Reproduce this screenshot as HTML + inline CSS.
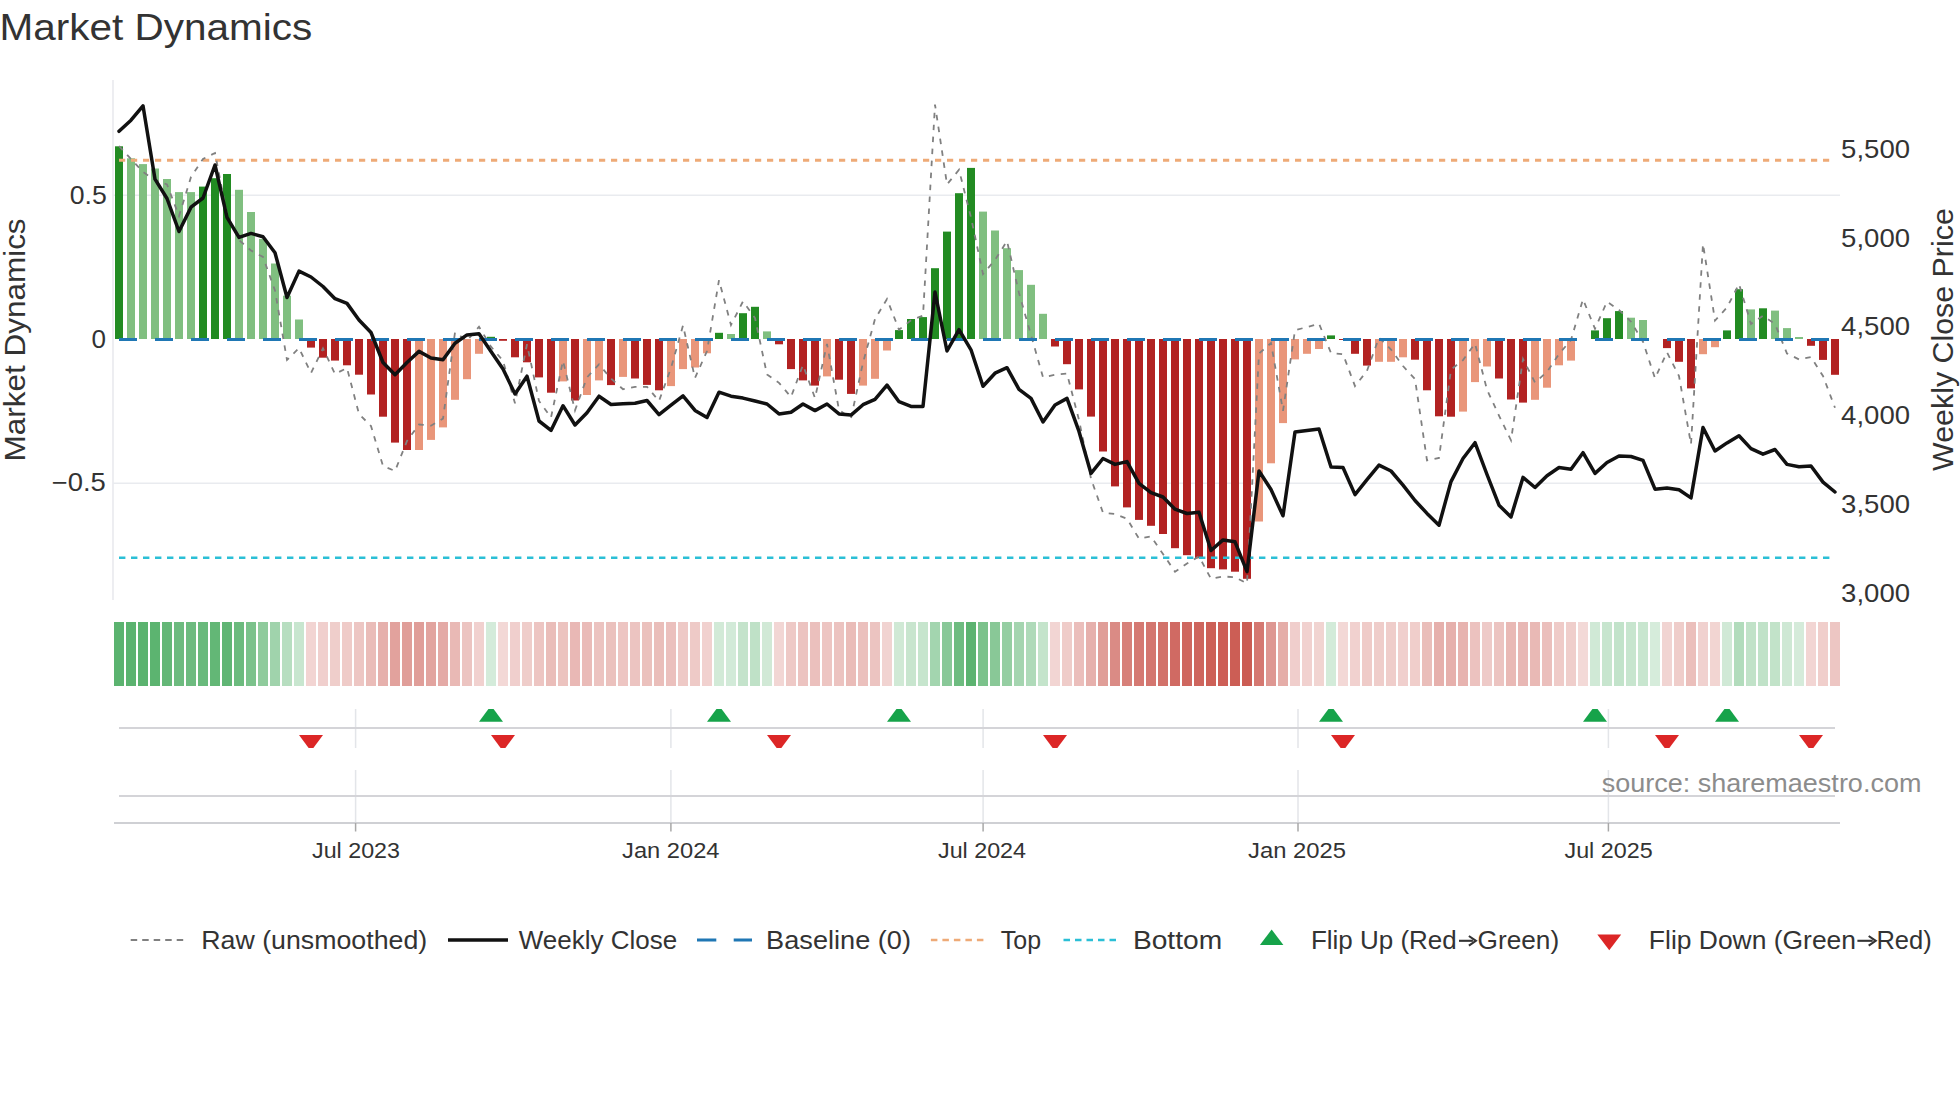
<!DOCTYPE html>
<html><head><meta charset="utf-8"><title>Market Dynamics</title>
<style>html,body{margin:0;padding:0;background:#fff;overflow:hidden}svg{display:block}</style>
</head><body>
<svg width="1960" height="1102" viewBox="0 0 1960 1102" font-family='"Liberation Sans", sans-serif'>
<rect width="1960" height="1102" fill="#ffffff"/>
<line x1="113" y1="80" x2="113" y2="600" stroke="#ebecf0" stroke-width="1.8"/>
<line x1="113" y1="195.3" x2="1840" y2="195.3" stroke="#e9ebef" stroke-width="1.6"/>
<line x1="113" y1="483.2" x2="1840" y2="483.2" stroke="#e9ebef" stroke-width="1.6"/>
<rect x="115" y="146.3" width="8" height="192.7" fill="#228b22"/>
<rect x="127" y="158.3" width="8" height="180.7" fill="#80bf80"/>
<rect x="139" y="164.1" width="8" height="174.9" fill="#80bf80"/>
<rect x="151" y="168.5" width="8" height="170.5" fill="#80bf80"/>
<rect x="163" y="179" width="8" height="160" fill="#80bf80"/>
<rect x="175" y="192.1" width="8" height="146.9" fill="#80bf80"/>
<rect x="187" y="192.1" width="8" height="146.9" fill="#80bf80"/>
<rect x="199" y="186.6" width="8" height="152.4" fill="#228b22"/>
<rect x="211" y="178.2" width="8" height="160.8" fill="#228b22"/>
<rect x="223" y="174" width="8" height="165" fill="#228b22"/>
<rect x="235" y="189.8" width="8" height="149.2" fill="#80bf80"/>
<rect x="247" y="212" width="8" height="127" fill="#80bf80"/>
<rect x="259" y="238.9" width="8" height="100.1" fill="#80bf80"/>
<rect x="271" y="263.5" width="8" height="75.5" fill="#80bf80"/>
<rect x="283" y="295.7" width="8" height="43.3" fill="#80bf80"/>
<rect x="295" y="319.5" width="8" height="19.5" fill="#80bf80"/>
<rect x="307" y="339.0" width="8" height="8.6" fill="#b22222"/>
<rect x="319" y="339.0" width="8" height="18.7" fill="#b22222"/>
<rect x="331" y="339.0" width="8" height="21.6" fill="#b22222"/>
<rect x="343" y="339.0" width="8" height="26.3" fill="#b22222"/>
<rect x="355" y="339.0" width="8" height="35.7" fill="#b22222"/>
<rect x="367" y="339.0" width="8" height="55.5" fill="#b22222"/>
<rect x="379" y="339.0" width="8" height="77.7" fill="#b22222"/>
<rect x="391" y="339.0" width="8" height="103.6" fill="#b22222"/>
<rect x="403" y="339.0" width="8" height="111" fill="#b22222"/>
<rect x="415" y="339.0" width="8" height="111" fill="#e9967a"/>
<rect x="427" y="339.0" width="8" height="100.9" fill="#e9967a"/>
<rect x="439" y="339.0" width="8" height="88.4" fill="#e9967a"/>
<rect x="451" y="339.0" width="8" height="60.8" fill="#e9967a"/>
<rect x="463" y="339.0" width="8" height="40.2" fill="#e9967a"/>
<rect x="475" y="339.0" width="8" height="14.8" fill="#e9967a"/>
<rect x="487" y="336.8" width="8" height="2.2" fill="#228b22"/>
<rect x="499" y="339.0" width="8" height="1.8" fill="#b22222"/>
<rect x="511" y="339.0" width="8" height="18.3" fill="#b22222"/>
<rect x="523" y="339.0" width="8" height="23.3" fill="#b22222"/>
<rect x="535" y="339.0" width="8" height="38.4" fill="#b22222"/>
<rect x="547" y="339.0" width="8" height="53.7" fill="#b22222"/>
<rect x="559" y="339.0" width="8" height="42.4" fill="#e9967a"/>
<rect x="571" y="339.0" width="8" height="61.5" fill="#b22222"/>
<rect x="583" y="339.0" width="8" height="56" fill="#e9967a"/>
<rect x="595" y="339.0" width="8" height="41.4" fill="#e9967a"/>
<rect x="607" y="339.0" width="8" height="46.1" fill="#b22222"/>
<rect x="619" y="339.0" width="8" height="37.9" fill="#e9967a"/>
<rect x="631" y="339.0" width="8" height="39.5" fill="#b22222"/>
<rect x="643" y="339.0" width="8" height="45.9" fill="#b22222"/>
<rect x="655" y="339.0" width="8" height="51.3" fill="#b22222"/>
<rect x="667" y="339.0" width="8" height="47.1" fill="#e9967a"/>
<rect x="679" y="339.0" width="8" height="30.1" fill="#e9967a"/>
<rect x="691" y="339.0" width="8" height="28.5" fill="#e9967a"/>
<rect x="703" y="339.0" width="8" height="14.3" fill="#e9967a"/>
<rect x="715" y="332.8" width="8" height="6.2" fill="#228b22"/>
<rect x="727" y="334" width="8" height="5" fill="#80bf80"/>
<rect x="739" y="313.2" width="8" height="25.8" fill="#228b22"/>
<rect x="751" y="306.8" width="8" height="32.2" fill="#228b22"/>
<rect x="763" y="331.4" width="8" height="7.6" fill="#80bf80"/>
<rect x="775" y="339.0" width="8" height="5.3" fill="#b22222"/>
<rect x="787" y="339.0" width="8" height="30.1" fill="#b22222"/>
<rect x="799" y="339.0" width="8" height="41.4" fill="#b22222"/>
<rect x="811" y="339.0" width="8" height="46.6" fill="#b22222"/>
<rect x="823" y="339.0" width="8" height="37.4" fill="#e9967a"/>
<rect x="835" y="339.0" width="8" height="40.7" fill="#b22222"/>
<rect x="847" y="339.0" width="8" height="54.9" fill="#b22222"/>
<rect x="859" y="339.0" width="8" height="46.6" fill="#e9967a"/>
<rect x="871" y="339.0" width="8" height="39.8" fill="#e9967a"/>
<rect x="883" y="339.0" width="8" height="11.5" fill="#e9967a"/>
<rect x="895" y="330.1" width="8" height="8.9" fill="#228b22"/>
<rect x="907" y="319" width="8" height="20" fill="#228b22"/>
<rect x="919" y="317.1" width="8" height="21.9" fill="#228b22"/>
<rect x="931" y="268.2" width="8" height="70.8" fill="#228b22"/>
<rect x="943" y="231.6" width="8" height="107.4" fill="#228b22"/>
<rect x="955" y="193.2" width="8" height="145.8" fill="#228b22"/>
<rect x="967" y="167.9" width="8" height="171.1" fill="#228b22"/>
<rect x="979" y="211.6" width="8" height="127.4" fill="#80bf80"/>
<rect x="991" y="230.5" width="8" height="108.5" fill="#80bf80"/>
<rect x="1003" y="248.2" width="8" height="90.8" fill="#80bf80"/>
<rect x="1015" y="270.1" width="8" height="68.9" fill="#80bf80"/>
<rect x="1027" y="284.8" width="8" height="54.2" fill="#80bf80"/>
<rect x="1039" y="313.8" width="8" height="25.2" fill="#80bf80"/>
<rect x="1051" y="339.0" width="8" height="7.5" fill="#b22222"/>
<rect x="1063" y="339.0" width="8" height="25.2" fill="#b22222"/>
<rect x="1075" y="339.0" width="8" height="50.4" fill="#b22222"/>
<rect x="1087" y="339.0" width="8" height="77.6" fill="#b22222"/>
<rect x="1099" y="339.0" width="8" height="112.5" fill="#b22222"/>
<rect x="1111" y="339.0" width="8" height="147.4" fill="#b22222"/>
<rect x="1123" y="339.0" width="8" height="168.4" fill="#b22222"/>
<rect x="1135" y="339.0" width="8" height="180.9" fill="#b22222"/>
<rect x="1147" y="339.0" width="8" height="186.8" fill="#b22222"/>
<rect x="1159" y="339.0" width="8" height="195" fill="#b22222"/>
<rect x="1171" y="339.0" width="8" height="209.2" fill="#b22222"/>
<rect x="1183" y="339.0" width="8" height="216.2" fill="#b22222"/>
<rect x="1195" y="339.0" width="8" height="219.3" fill="#b22222"/>
<rect x="1207" y="339.0" width="8" height="229.2" fill="#b22222"/>
<rect x="1219" y="339.0" width="8" height="230.4" fill="#b22222"/>
<rect x="1231" y="339.0" width="8" height="232.7" fill="#b22222"/>
<rect x="1243" y="339.0" width="8" height="239.8" fill="#b22222"/>
<rect x="1255" y="339.0" width="8" height="182.5" fill="#e9967a"/>
<rect x="1267" y="339.0" width="8" height="124.3" fill="#e9967a"/>
<rect x="1279" y="339.0" width="8" height="84.1" fill="#e9967a"/>
<rect x="1291" y="339.0" width="8" height="20.4" fill="#e9967a"/>
<rect x="1303" y="339.0" width="8" height="14.8" fill="#e9967a"/>
<rect x="1315" y="339.0" width="8" height="10" fill="#e9967a"/>
<rect x="1327" y="335.4" width="8" height="3.6" fill="#228b22"/>
<rect x="1339" y="339.0" width="8" height="1" fill="#b22222"/>
<rect x="1351" y="339.0" width="8" height="14.8" fill="#b22222"/>
<rect x="1363" y="339.0" width="8" height="26.6" fill="#b22222"/>
<rect x="1375" y="339.0" width="8" height="22.8" fill="#e9967a"/>
<rect x="1387" y="339.0" width="8" height="22.8" fill="#e9967a"/>
<rect x="1399" y="339.0" width="8" height="18.3" fill="#e9967a"/>
<rect x="1411" y="339.0" width="8" height="20.7" fill="#b22222"/>
<rect x="1423" y="339.0" width="8" height="51.3" fill="#b22222"/>
<rect x="1435" y="339.0" width="8" height="77.3" fill="#b22222"/>
<rect x="1447" y="339.0" width="8" height="77.7" fill="#b22222"/>
<rect x="1459" y="339.0" width="8" height="72.6" fill="#e9967a"/>
<rect x="1471" y="339.0" width="8" height="43.1" fill="#e9967a"/>
<rect x="1483" y="339.0" width="8" height="27.5" fill="#e9967a"/>
<rect x="1495" y="339.0" width="8" height="39.5" fill="#b22222"/>
<rect x="1507" y="339.0" width="8" height="60.5" fill="#b22222"/>
<rect x="1519" y="339.0" width="8" height="63.6" fill="#b22222"/>
<rect x="1531" y="339.0" width="8" height="60.8" fill="#e9967a"/>
<rect x="1543" y="339.0" width="8" height="48.7" fill="#e9967a"/>
<rect x="1555" y="339.0" width="8" height="26.3" fill="#e9967a"/>
<rect x="1567" y="339.0" width="8" height="21.6" fill="#e9967a"/>
<rect x="1591" y="330.4" width="8" height="8.6" fill="#228b22"/>
<rect x="1603" y="318.2" width="8" height="20.8" fill="#228b22"/>
<rect x="1615" y="311.1" width="8" height="27.9" fill="#228b22"/>
<rect x="1627" y="317.7" width="8" height="21.3" fill="#80bf80"/>
<rect x="1639" y="320" width="8" height="19" fill="#80bf80"/>
<rect x="1663" y="339.0" width="8" height="9.1" fill="#b22222"/>
<rect x="1675" y="339.0" width="8" height="22.8" fill="#b22222"/>
<rect x="1687" y="339.0" width="8" height="49.4" fill="#b22222"/>
<rect x="1699" y="339.0" width="8" height="15.2" fill="#e9967a"/>
<rect x="1711" y="339.0" width="8" height="8.2" fill="#e9967a"/>
<rect x="1723" y="330.4" width="8" height="8.6" fill="#228b22"/>
<rect x="1735" y="289.2" width="8" height="49.8" fill="#228b22"/>
<rect x="1747" y="309.4" width="8" height="29.6" fill="#80bf80"/>
<rect x="1759" y="308.3" width="8" height="30.7" fill="#228b22"/>
<rect x="1771" y="310.6" width="8" height="28.4" fill="#80bf80"/>
<rect x="1783" y="328.1" width="8" height="10.9" fill="#80bf80"/>
<rect x="1795" y="337" width="8" height="2" fill="#80bf80"/>
<rect x="1807" y="339.0" width="8" height="6.8" fill="#b22222"/>
<rect x="1819" y="339.0" width="8" height="20.9" fill="#b22222"/>
<rect x="1831" y="339.0" width="8" height="35.8" fill="#b22222"/>
<line x1="119" y1="160.3" x2="1835" y2="160.3" stroke="#eeaa77" stroke-width="3" stroke-dasharray="6.2 5.8"/>
<line x1="119" y1="557.7" x2="1835" y2="557.7" stroke="#2bbfd6" stroke-width="2.6" stroke-dasharray="6.4 5.6"/>
<polyline points="119,146 131,159 143,172 155,180 167,184.4 179,216 191,177 203,159 215,153 227,215 239,240 251,250.5 263,257 275,290.5 287,360 299,348 311,373 323,348.3 335,374 347,368 359,414 371,426 383,466 395,471 407,441 419,424.5 431,425.7 443,418.6 455,332.5 467,340.8 479,326.7 491,346.7 503,360.8 515,403.3 527,344.3 539,401 551,417.5 563,360.8 575,410.4 587,377.4 599,364.4 611,378.5 623,389.2 635,386.8 647,386.8 659,401 671,368 683,325.5 695,378 707,351 719,280.2 731,325 743,301.4 755,318 767,374.5 779,382.8 791,397 803,365 815,398 827,343.9 839,410 851,418.2 863,362.7 875,319.1 887,299 899,329.7 911,320.3 923,315.6 935,104.6 947,184.4 959,169.8 971,217.5 983,274 995,260 1007,241 1019,293 1031,335 1043,377.2 1055,374.8 1067,373.6 1079,420 1091,478.6 1103,512.8 1115,514 1127,518.7 1139,538.7 1151,536.4 1163,554 1175,571.7 1187,563.5 1199,556.4 1211,578.8 1223,576.5 1235,577.2 1247,583.5 1259,353.6 1271,343 1283,410.8 1295,330.2 1307,327.1 1319,323.6 1331,353 1343,354.2 1355,386.1 1367,370.8 1379,337.7 1391,349.5 1403,366 1415,379 1427,460.4 1439,458 1451,369.6 1463,360.1 1475,343.6 1487,389.6 1499,415.6 1511,440.3 1523,359 1535,382.5 1547,371.9 1559,354 1571,340 1583,299.3 1595,328.8 1607,301.7 1619,309.9 1631,321.7 1643,341.7 1655,378.3 1667,352.4 1679,376 1691,444.3 1703,243.9 1715,320.5 1727,307.5 1739,284 1751,324 1763,315.8 1775,324 1787,353.5 1799,359.4 1811,357.1 1823,376 1835,407.8" fill="none" stroke="#808080" stroke-width="1.8" stroke-dasharray="5.5 6.5"/>
<line x1="119" y1="339.5" x2="1835" y2="339.5" stroke="#1f77b4" stroke-width="2.8" stroke-dasharray="18 18"/>
<polyline points="119,131.3 131,120.2 143,105.8 155,179.2 167,198.5 179,231.5 191,207.2 203,198 215,165 227,217.4 239,237.4 251,233.4 263,236.7 275,252.7 287,297.5 299,271.1 311,277 323,286.5 335,298.7 347,303.4 359,320 371,332.5 383,362.5 395,374.7 407,362.5 419,351.4 431,358 443,359.7 455,343.2 467,334.9 479,333.7 491,351.4 503,369.1 515,393.9 527,376.2 539,421 551,430.4 563,405.7 575,425 587,412.7 599,396.2 611,404.5 623,403.8 635,403.3 647,400.5 659,414.6 671,405.2 683,395.8 695,410.4 707,417.5 719,392.2 731,396.2 743,398.1 755,401 767,404 779,413.9 791,412.3 803,404 815,410.6 827,404 839,413.9 851,415.1 863,404.7 875,399.3 887,385.1 899,401.7 911,406.4 923,406.4 935,292 947,351 959,329.7 971,349.8 983,386.3 995,373.2 1007,367.7 1019,389.4 1031,398.4 1043,422 1055,405 1067,398.4 1079,431.4 1091,473.4 1103,458.5 1115,464.4 1127,461.6 1139,483.3 1151,492.7 1163,497 1175,509.2 1187,513.5 1199,512.3 1211,550.5 1223,539.9 1235,541.8 1247,571.7 1259,471 1271,489.5 1283,515.8 1295,432.1 1307,430.4 1319,429 1331,467 1343,467.5 1355,494.6 1367,479.7 1379,465.1 1391,471 1403,485.1 1415,500.5 1427,513.4 1439,525.2 1451,481.6 1463,458.5 1475,442.7 1487,474.5 1499,505.2 1511,517 1523,477.4 1535,487.5 1547,475.7 1559,467.5 1571,469.3 1583,452.7 1595,473.4 1607,462.5 1619,456 1631,456.5 1643,460.3 1655,489.2 1667,488.1 1679,489.7 1691,497.9 1703,427.6 1715,451 1727,442.9 1739,435.8 1751,448.6 1763,454.2 1775,449.5 1787,464.4 1799,466.7 1811,466 1823,482.1 1835,492" fill="none" stroke="#111111" stroke-width="3.5" stroke-linejoin="round" stroke-linecap="round"/>
<rect x="114" y="622" width="10" height="64" fill="#5bb36f"/>
<rect x="126" y="622" width="10" height="64" fill="#5bb36f"/>
<rect x="138" y="622" width="10" height="64" fill="#5bb36f"/>
<rect x="150" y="622" width="10" height="64" fill="#5cb470"/>
<rect x="162" y="622" width="10" height="64" fill="#64b777"/>
<rect x="174" y="622" width="10" height="64" fill="#6dbb7f"/>
<rect x="186" y="622" width="10" height="64" fill="#6dbb7f"/>
<rect x="198" y="622" width="10" height="64" fill="#69ba7c"/>
<rect x="210" y="622" width="10" height="64" fill="#63b776"/>
<rect x="222" y="622" width="10" height="64" fill="#60b574"/>
<rect x="234" y="622" width="10" height="64" fill="#6cbb7e"/>
<rect x="246" y="622" width="10" height="64" fill="#7bc28b"/>
<rect x="258" y="622" width="10" height="64" fill="#8fcb9c"/>
<rect x="270" y="622" width="10" height="64" fill="#a0d3ac"/>
<rect x="282" y="622" width="10" height="64" fill="#b7dec0"/>
<rect x="294" y="622" width="10" height="64" fill="#c8e6cf"/>
<rect x="306" y="622" width="10" height="64" fill="#f2d4d2"/>
<rect x="318" y="622" width="10" height="64" fill="#f0cfcd"/>
<rect x="330" y="622" width="10" height="64" fill="#efcecb"/>
<rect x="342" y="622" width="10" height="64" fill="#efcbc8"/>
<rect x="354" y="622" width="10" height="64" fill="#edc6c3"/>
<rect x="366" y="622" width="10" height="64" fill="#eabcb8"/>
<rect x="378" y="622" width="10" height="64" fill="#e6b0ac"/>
<rect x="390" y="622" width="10" height="64" fill="#e2a29d"/>
<rect x="402" y="622" width="10" height="64" fill="#e09e99"/>
<rect x="414" y="622" width="10" height="64" fill="#e09e99"/>
<rect x="426" y="622" width="10" height="64" fill="#e2a49f"/>
<rect x="438" y="622" width="10" height="64" fill="#e4aaa6"/>
<rect x="450" y="622" width="10" height="64" fill="#e9b9b5"/>
<rect x="462" y="622" width="10" height="64" fill="#ecc4c1"/>
<rect x="474" y="622" width="10" height="64" fill="#f1d1cf"/>
<rect x="486" y="622" width="10" height="64" fill="#d4ebda"/>
<rect x="498" y="622" width="10" height="64" fill="#f3d8d6"/>
<rect x="510" y="622" width="10" height="64" fill="#f0cfcd"/>
<rect x="522" y="622" width="10" height="64" fill="#efcdca"/>
<rect x="534" y="622" width="10" height="64" fill="#edc5c2"/>
<rect x="546" y="622" width="10" height="64" fill="#eabdb9"/>
<rect x="558" y="622" width="10" height="64" fill="#ecc3bf"/>
<rect x="570" y="622" width="10" height="64" fill="#e9b8b5"/>
<rect x="582" y="622" width="10" height="64" fill="#eabbb8"/>
<rect x="594" y="622" width="10" height="64" fill="#ecc3c0"/>
<rect x="606" y="622" width="10" height="64" fill="#ebc1bd"/>
<rect x="618" y="622" width="10" height="64" fill="#edc5c2"/>
<rect x="630" y="622" width="10" height="64" fill="#ecc4c1"/>
<rect x="642" y="622" width="10" height="64" fill="#ebc1bd"/>
<rect x="654" y="622" width="10" height="64" fill="#eabeba"/>
<rect x="666" y="622" width="10" height="64" fill="#ebc0bd"/>
<rect x="678" y="622" width="10" height="64" fill="#eec9c6"/>
<rect x="690" y="622" width="10" height="64" fill="#eecac7"/>
<rect x="702" y="622" width="10" height="64" fill="#f1d1cf"/>
<rect x="714" y="622" width="10" height="64" fill="#d2ead7"/>
<rect x="726" y="622" width="10" height="64" fill="#d2ead8"/>
<rect x="738" y="622" width="10" height="64" fill="#c4e3cb"/>
<rect x="750" y="622" width="10" height="64" fill="#bfe1c7"/>
<rect x="762" y="622" width="10" height="64" fill="#d1e9d6"/>
<rect x="774" y="622" width="10" height="64" fill="#f2d6d4"/>
<rect x="786" y="622" width="10" height="64" fill="#eec9c6"/>
<rect x="798" y="622" width="10" height="64" fill="#ecc3c0"/>
<rect x="810" y="622" width="10" height="64" fill="#ebc0bd"/>
<rect x="822" y="622" width="10" height="64" fill="#edc5c2"/>
<rect x="834" y="622" width="10" height="64" fill="#ecc3c0"/>
<rect x="846" y="622" width="10" height="64" fill="#eabcb8"/>
<rect x="858" y="622" width="10" height="64" fill="#ebc0bd"/>
<rect x="870" y="622" width="10" height="64" fill="#ecc4c1"/>
<rect x="882" y="622" width="10" height="64" fill="#f1d3d1"/>
<rect x="894" y="622" width="10" height="64" fill="#d0e9d5"/>
<rect x="906" y="622" width="10" height="64" fill="#c8e5ce"/>
<rect x="918" y="622" width="10" height="64" fill="#c6e5cd"/>
<rect x="930" y="622" width="10" height="64" fill="#a3d5af"/>
<rect x="942" y="622" width="10" height="64" fill="#89c898"/>
<rect x="954" y="622" width="10" height="64" fill="#6ebc80"/>
<rect x="966" y="622" width="10" height="64" fill="#5cb370"/>
<rect x="978" y="622" width="10" height="64" fill="#7bc28b"/>
<rect x="990" y="622" width="10" height="64" fill="#89c897"/>
<rect x="1002" y="622" width="10" height="64" fill="#95cea2"/>
<rect x="1014" y="622" width="10" height="64" fill="#a5d5b0"/>
<rect x="1026" y="622" width="10" height="64" fill="#afdab9"/>
<rect x="1038" y="622" width="10" height="64" fill="#c4e4cb"/>
<rect x="1050" y="622" width="10" height="64" fill="#f2d5d3"/>
<rect x="1062" y="622" width="10" height="64" fill="#efccc9"/>
<rect x="1074" y="622" width="10" height="64" fill="#ebbebb"/>
<rect x="1086" y="622" width="10" height="64" fill="#e6b0ac"/>
<rect x="1098" y="622" width="10" height="64" fill="#e09e98"/>
<rect x="1110" y="622" width="10" height="64" fill="#da8b85"/>
<rect x="1122" y="622" width="10" height="64" fill="#d78079"/>
<rect x="1134" y="622" width="10" height="64" fill="#d57972"/>
<rect x="1146" y="622" width="10" height="64" fill="#d4766f"/>
<rect x="1158" y="622" width="10" height="64" fill="#d2726a"/>
<rect x="1170" y="622" width="10" height="64" fill="#d06a63"/>
<rect x="1182" y="622" width="10" height="64" fill="#cf675f"/>
<rect x="1194" y="622" width="10" height="64" fill="#ce655d"/>
<rect x="1206" y="622" width="10" height="64" fill="#cd6057"/>
<rect x="1218" y="622" width="10" height="64" fill="#cd5f57"/>
<rect x="1230" y="622" width="10" height="64" fill="#cc5e55"/>
<rect x="1242" y="622" width="10" height="64" fill="#cb5c53"/>
<rect x="1254" y="622" width="10" height="64" fill="#d57871"/>
<rect x="1266" y="622" width="10" height="64" fill="#de9792"/>
<rect x="1278" y="622" width="10" height="64" fill="#e5ada8"/>
<rect x="1290" y="622" width="10" height="64" fill="#f0cecc"/>
<rect x="1302" y="622" width="10" height="64" fill="#f1d1cf"/>
<rect x="1314" y="622" width="10" height="64" fill="#f1d4d1"/>
<rect x="1326" y="622" width="10" height="64" fill="#d3ebd9"/>
<rect x="1338" y="622" width="10" height="64" fill="#f3d8d6"/>
<rect x="1350" y="622" width="10" height="64" fill="#f1d1cf"/>
<rect x="1362" y="622" width="10" height="64" fill="#efcbc8"/>
<rect x="1374" y="622" width="10" height="64" fill="#efcdca"/>
<rect x="1386" y="622" width="10" height="64" fill="#efcdca"/>
<rect x="1398" y="622" width="10" height="64" fill="#f0cfcd"/>
<rect x="1410" y="622" width="10" height="64" fill="#f0cecb"/>
<rect x="1422" y="622" width="10" height="64" fill="#eabeba"/>
<rect x="1434" y="622" width="10" height="64" fill="#e6b0ac"/>
<rect x="1446" y="622" width="10" height="64" fill="#e6b0ac"/>
<rect x="1458" y="622" width="10" height="64" fill="#e7b3af"/>
<rect x="1470" y="622" width="10" height="64" fill="#ecc2bf"/>
<rect x="1482" y="622" width="10" height="64" fill="#eecac8"/>
<rect x="1494" y="622" width="10" height="64" fill="#ecc4c1"/>
<rect x="1506" y="622" width="10" height="64" fill="#e9b9b5"/>
<rect x="1518" y="622" width="10" height="64" fill="#e8b7b4"/>
<rect x="1530" y="622" width="10" height="64" fill="#e9b9b5"/>
<rect x="1542" y="622" width="10" height="64" fill="#ebbfbc"/>
<rect x="1554" y="622" width="10" height="64" fill="#efcbc8"/>
<rect x="1566" y="622" width="10" height="64" fill="#efcecb"/>
<rect x="1578" y="622" width="10" height="64" fill="#f3d9d7"/>
<rect x="1590" y="622" width="10" height="64" fill="#d0e9d6"/>
<rect x="1602" y="622" width="10" height="64" fill="#c7e5ce"/>
<rect x="1614" y="622" width="10" height="64" fill="#c2e3ca"/>
<rect x="1626" y="622" width="10" height="64" fill="#c7e5ce"/>
<rect x="1638" y="622" width="10" height="64" fill="#c8e6cf"/>
<rect x="1650" y="622" width="10" height="64" fill="#d6ecdb"/>
<rect x="1662" y="622" width="10" height="64" fill="#f1d4d2"/>
<rect x="1674" y="622" width="10" height="64" fill="#efcdca"/>
<rect x="1686" y="622" width="10" height="64" fill="#ebbfbb"/>
<rect x="1698" y="622" width="10" height="64" fill="#f0d1cf"/>
<rect x="1710" y="622" width="10" height="64" fill="#f2d5d2"/>
<rect x="1722" y="622" width="10" height="64" fill="#d0e9d6"/>
<rect x="1734" y="622" width="10" height="64" fill="#b2dcbc"/>
<rect x="1746" y="622" width="10" height="64" fill="#c1e2c8"/>
<rect x="1758" y="622" width="10" height="64" fill="#c0e2c8"/>
<rect x="1770" y="622" width="10" height="64" fill="#c2e3c9"/>
<rect x="1782" y="622" width="10" height="64" fill="#cee8d4"/>
<rect x="1794" y="622" width="10" height="64" fill="#d5ebda"/>
<rect x="1806" y="622" width="10" height="64" fill="#f2d5d3"/>
<rect x="1818" y="622" width="10" height="64" fill="#f0cecb"/>
<rect x="1830" y="622" width="10" height="64" fill="#edc6c3"/>
<line x1="355.6" y1="709" x2="355.6" y2="748" stroke="#e3e5e9" stroke-width="1.5"/>
<line x1="355.6" y1="770" x2="355.6" y2="823" stroke="#e3e5e9" stroke-width="1.5"/>
<line x1="670.9" y1="709" x2="670.9" y2="748" stroke="#e3e5e9" stroke-width="1.5"/>
<line x1="670.9" y1="770" x2="670.9" y2="823" stroke="#e3e5e9" stroke-width="1.5"/>
<line x1="983.1" y1="709" x2="983.1" y2="748" stroke="#e3e5e9" stroke-width="1.5"/>
<line x1="983.1" y1="770" x2="983.1" y2="823" stroke="#e3e5e9" stroke-width="1.5"/>
<line x1="1298.0" y1="709" x2="1298.0" y2="748" stroke="#e3e5e9" stroke-width="1.5"/>
<line x1="1298.0" y1="770" x2="1298.0" y2="823" stroke="#e3e5e9" stroke-width="1.5"/>
<line x1="1608.4" y1="709" x2="1608.4" y2="748" stroke="#e3e5e9" stroke-width="1.5"/>
<line x1="1608.4" y1="770" x2="1608.4" y2="823" stroke="#e3e5e9" stroke-width="1.5"/>
<line x1="119" y1="728" x2="1835" y2="728" stroke="#d4d4d8" stroke-width="1.8"/>
<line x1="119" y1="796" x2="1835" y2="796" stroke="#d4d4d8" stroke-width="1.8"/>
<defs><clipPath id="fc"><rect x="0" y="709" width="1960" height="39"/></clipPath></defs>
<g clip-path="url(#fc)">
<path d="M479,721.7 L503,721.7 L491,705.5 Z" fill="#16a34a"/>
<path d="M707,721.7 L731,721.7 L719,705.5 Z" fill="#16a34a"/>
<path d="M887,721.7 L911,721.7 L899,705.5 Z" fill="#16a34a"/>
<path d="M1319,721.7 L1343,721.7 L1331,705.5 Z" fill="#16a34a"/>
<path d="M1583,721.7 L1607,721.7 L1595,705.5 Z" fill="#16a34a"/>
<path d="M1715,721.7 L1739,721.7 L1727,705.5 Z" fill="#16a34a"/>
<path d="M299,735 L323,735 L311,751.2 Z" fill="#dc2626"/>
<path d="M491,735 L515,735 L503,751.2 Z" fill="#dc2626"/>
<path d="M767,735 L791,735 L779,751.2 Z" fill="#dc2626"/>
<path d="M1043,735 L1067,735 L1055,751.2 Z" fill="#dc2626"/>
<path d="M1331,735 L1355,735 L1343,751.2 Z" fill="#dc2626"/>
<path d="M1655,735 L1679,735 L1667,751.2 Z" fill="#dc2626"/>
<path d="M1799,735 L1823,735 L1811,751.2 Z" fill="#dc2626"/>
</g>
<line x1="114" y1="823" x2="1840" y2="823" stroke="#cfd0d4" stroke-width="1.8"/>
<line x1="355.6" y1="823" x2="355.6" y2="831.5" stroke="#a8a8a8" stroke-width="1.5"/>
<line x1="670.9" y1="823" x2="670.9" y2="831.5" stroke="#a8a8a8" stroke-width="1.5"/>
<line x1="983.1" y1="823" x2="983.1" y2="831.5" stroke="#a8a8a8" stroke-width="1.5"/>
<line x1="1298.0" y1="823" x2="1298.0" y2="831.5" stroke="#a8a8a8" stroke-width="1.5"/>
<line x1="1608.4" y1="823" x2="1608.4" y2="831.5" stroke="#a8a8a8" stroke-width="1.5"/>
<line x1="130.7" y1="940" x2="185.3" y2="940" stroke="#808080" stroke-width="1.8" stroke-dasharray="6.5 5"/>
<line x1="448" y1="940" x2="508" y2="940" stroke="#111111" stroke-width="3.6"/>
<line x1="697" y1="940" x2="752" y2="940" stroke="#1f77b4" stroke-width="2.8" stroke-dasharray="19.3 17.4"/>
<line x1="930.9" y1="940" x2="985.7" y2="940" stroke="#eeaa77" stroke-width="2.6" stroke-dasharray="6.5 5"/>
<line x1="1063.5" y1="940" x2="1118.2" y2="940" stroke="#2bbfd6" stroke-width="2.6" stroke-dasharray="6.5 5"/>
<path d="M1259.9,945 L1283.4,945 L1271.65,929.6 Z" fill="#16a34a"/>
<path d="M1597.3,934.5 L1621.2,934.5 L1609.25,950.2 Z" fill="#dc2626"/>
<text x="-0.55" y="40.4" font-size="36.5" fill="#333333" text-anchor="start" textLength="312.79" lengthAdjust="spacingAndGlyphs">Market Dynamics</text>
<text x="69.74" y="203.7" font-size="25" fill="#333333" text-anchor="start" textLength="37.09" lengthAdjust="spacingAndGlyphs">0.5</text>
<text x="91.42" y="347.5" font-size="25" fill="#333333" text-anchor="start" textLength="14.49" lengthAdjust="spacingAndGlyphs">0</text>
<text x="51.73" y="491.2" font-size="25" fill="#333333" text-anchor="start" textLength="54.12" lengthAdjust="spacingAndGlyphs">−0.5</text>
<text x="1841.14" y="157.6" font-size="25" fill="#333333" text-anchor="start" textLength="68.91" lengthAdjust="spacingAndGlyphs">5,500</text>
<text x="1841.14" y="246.5" font-size="25" fill="#333333" text-anchor="start" textLength="68.91" lengthAdjust="spacingAndGlyphs">5,000</text>
<text x="1841.14" y="335.4" font-size="25" fill="#333333" text-anchor="start" textLength="68.91" lengthAdjust="spacingAndGlyphs">4,500</text>
<text x="1841.14" y="424.3" font-size="25" fill="#333333" text-anchor="start" textLength="68.91" lengthAdjust="spacingAndGlyphs">4,000</text>
<text x="1841.14" y="513.2" font-size="25" fill="#333333" text-anchor="start" textLength="68.91" lengthAdjust="spacingAndGlyphs">3,500</text>
<text x="1841.14" y="602.1" font-size="25" fill="#333333" text-anchor="start" textLength="68.91" lengthAdjust="spacingAndGlyphs">3,000</text>
<text x="312" y="857.9" font-size="22" fill="#333333" text-anchor="start" textLength="88.01" lengthAdjust="spacingAndGlyphs">Jul 2023</text>
<text x="622.09" y="857.9" font-size="22" fill="#333333" text-anchor="start" textLength="97.41" lengthAdjust="spacingAndGlyphs">Jan 2024</text>
<text x="938" y="857.9" font-size="22" fill="#333333" text-anchor="start" textLength="88.03" lengthAdjust="spacingAndGlyphs">Jul 2024</text>
<text x="1248.08" y="857.9" font-size="22" fill="#333333" text-anchor="start" textLength="97.94" lengthAdjust="spacingAndGlyphs">Jan 2025</text>
<text x="1564.49" y="857.9" font-size="22" fill="#333333" text-anchor="start" textLength="88.12" lengthAdjust="spacingAndGlyphs">Jul 2025</text>
<text x="1601.78" y="791.6" font-size="26" fill="#8c8c8c" text-anchor="start" textLength="319.64" lengthAdjust="spacingAndGlyphs">source: sharemaestro.com</text>
<text x="201.25" y="949" font-size="25" fill="#333333" text-anchor="start" textLength="225.95" lengthAdjust="spacingAndGlyphs">Raw (unsmoothed)</text>
<text x="518.8" y="949" font-size="25" fill="#333333" text-anchor="start" textLength="158.41" lengthAdjust="spacingAndGlyphs">Weekly Close</text>
<text x="766.13" y="949" font-size="25" fill="#333333" text-anchor="start" textLength="144.89" lengthAdjust="spacingAndGlyphs">Baseline (0)</text>
<text x="1000.75" y="949" font-size="25" fill="#333333" text-anchor="start" textLength="40.29" lengthAdjust="spacingAndGlyphs">Top</text>
<text x="1132.9" y="949" font-size="25" fill="#333333" text-anchor="start" textLength="89.24" lengthAdjust="spacingAndGlyphs">Bottom</text>
<text x="1310.96" y="949" font-size="25" fill="#333333" text-anchor="start" textLength="145.77" lengthAdjust="spacingAndGlyphs">Flip Up (Red</text>
<text x="1477.55" y="949" font-size="25" fill="#333333" text-anchor="start" textLength="81.6" lengthAdjust="spacingAndGlyphs">Green)</text>
<text x="1648.87" y="949" font-size="25" fill="#333333" text-anchor="start" textLength="207.17" lengthAdjust="spacingAndGlyphs">Flip Down (Green</text>
<text x="1876.43" y="949" font-size="25" fill="#333333" text-anchor="start" textLength="55.37" lengthAdjust="spacingAndGlyphs">Red)</text>
<text transform="translate(25.3,339.9) rotate(-90)" x="0" y="0" font-size="30" fill="#333333" text-anchor="middle" textLength="243" lengthAdjust="spacingAndGlyphs">Market Dynamics</text>
<text transform="translate(1953.45,339.55) rotate(-90)" x="0" y="0" font-size="30" fill="#333333" text-anchor="middle" textLength="262.7" lengthAdjust="spacingAndGlyphs">Weekly Close Price</text>
<path d="M1459.0,940.8 H1472.9" stroke="#333333" stroke-width="2.1" fill="none"/>
<path d="M1468.9,936 L1475.9,940.8 L1468.9,945.7" stroke="#333333" stroke-width="2.1" fill="none" stroke-linejoin="miter"/>
<path d="M1857.4,940.8 H1872.7" stroke="#333333" stroke-width="2.1" fill="none"/>
<path d="M1868.7,936 L1875.7,940.8 L1868.7,945.7" stroke="#333333" stroke-width="2.1" fill="none" stroke-linejoin="miter"/>
</svg>
</body></html>
